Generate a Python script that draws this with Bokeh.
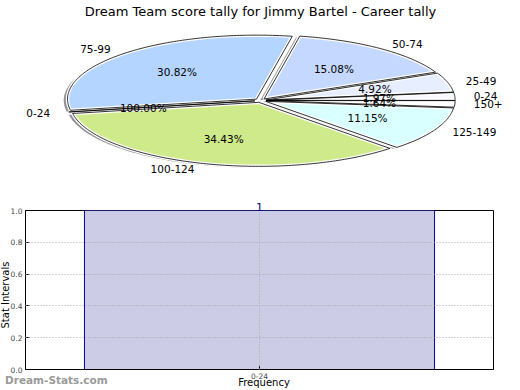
import numpy as np
from bokeh.plotting import figure
from bokeh.layouts import column
from bokeh.models import (Range1d, Label, ColumnDataSource, FactorRange,
                          FixedTicker, PrintfTickFormatter, Title, Div)
from bokeh.core.properties import value
from bokeh.embed import file_html
from bokeh.resources import INLINE

# ---------------- data ----------------
title_text = "Dream Team score tally for Jimmy Bartel - Career tally"
slice_labels = ["0-24", "25-49", "50-74", "75-99", "0-24", "100-124", "125-149", "150+"]
slice_pcts = [1.97, 4.92, 15.08, 30.82, 0.0, 34.43, 11.15, 1.64]
pct_texts = ["1.97%", "4.92%", "15.08%", "30.82%", "100.00%", "34.43%", "11.15%", "1.64%"]
slice_colors = ["#F7F9FF", "#E6EEFF", "#C5D8FF", "#B3D5FF", "#FFFFFF", "#CFEA8A", "#D9FFFF", "#FFFFFF"]

bar_cats = ["0-24"]
bar_vals = [1]
y_ticks = [0.0, 0.2, 0.4, 0.6, 0.8, 1.0]
x_label = "Frequency"
y_label = "Stat Intervals"
watermark = "Dream-Stats.com"

FONT = "DejaVu Sans"

# ---------------- pie ----------------
explode = 0.03
total = sum(slice_pcts)
xs, ys, sxs, sys_ = [], [], [], []
lab_x, lab_y, lab_align = [], [], []
pct_x, pct_y = [], []
t1 = 0.0
for v in slice_pcts:
    t2 = t1 + 360.0 * v / total
    mid = np.radians(0.5 * (t1 + t2))
    cx, cy = explode * np.cos(mid), explode * np.sin(mid)
    n = max(2, int(abs(t2 - t1)) + 2)
    ang = np.radians(np.linspace(t1, t2, n))
    px = [cx] + list(cx + np.cos(ang))
    py = [cy] + list(cy + np.sin(ang))
    xs.append(px)
    ys.append(py)
    sxs.append([a - 0.02 for a in px])
    sys_.append([b - 0.02 for b in py])
    lx = cx + 1.1 * np.cos(mid)
    ly = cy + 1.1 * np.sin(mid)
    lab_x.append(lx)
    lab_y.append(ly)
    lab_align.append("left" if lx > 0 else "right")
    pct_x.append(cx + 0.6 * np.cos(mid))
    pct_y.append(cy + 0.6 * np.sin(mid))
    t1 = t2

p1 = figure(width=520, height=192, x_range=Range1d(-1.3757, 1.3757),
            y_range=Range1d(-1.4375, 1.5625), output_backend="svg",
            toolbar_location=None, min_border=0)
p1.frame_align = False
p1.xaxis.visible = False
p1.yaxis.visible = False
p1.xgrid.visible = False
p1.ygrid.visible = False
p1.outline_line_color = None
p1.min_border_left = 0
p1.min_border_right = 0
p1.min_border_top = 0
p1.min_border_bottom = 0

p1.patches(sxs, sys_, fill_color="#4a4a4a", fill_alpha=0.6, line_color=None)
p1.patches(xs, ys, fill_color=slice_colors, line_color="white", line_width=3.5)
p1.patches(xs, ys, fill_color=None, line_color="black", line_width=0.8)

lab_src = ColumnDataSource(dict(x=lab_x, y=lab_y, t=slice_labels, a=lab_align))
p1.text(x="x", y="y", text="t", text_align="a", text_baseline="middle",
        text_font=value(FONT), text_font_size="10.5px", text_color="black",
        source=lab_src)
pct_src = ColumnDataSource(dict(x=pct_x, y=pct_y, t=pct_texts))
p1.text(x="x", y="y", text="t", text_align="center", text_baseline="middle",
        text_font=value(FONT), text_font_size="10.5px", text_color="black",
        source=pct_src)

p1.add_layout(Label(x=0, y=1.5625, text=title_text, text_align="center",
                    text_baseline="top", y_offset=-3, text_font=FONT,
                    text_font_size="13px", text_color="black"))

# ---------------- bar ----------------
p2 = figure(width=520, height=198, x_range=FactorRange(*bar_cats),
            y_range=Range1d(0, 1), output_backend="svg", toolbar_location=None,
            min_border_left=25, min_border_right=27, min_border_top=18,
            min_border_bottom=21)
p2.frame_align = False
p2.vbar(x=bar_cats, top=bar_vals, width=0.748, fill_color="#CCCCE6",
        line_color="#000099", line_width=1)

p2.outline_line_color = "black"
p2.outline_line_width = 1
p2.ygrid.ticker = FixedTicker(ticks=y_ticks)
for g in (p2.xgrid, p2.ygrid):
    g.grid_line_color = "#A8A8A8"
    g.grid_line_dash = "1 2"
    g.level = "overlay"

p2.yaxis.ticker = FixedTicker(ticks=y_ticks)
p2.yaxis.formatter = PrintfTickFormatter(format="%.1f")
for ax in (p2.xaxis, p2.yaxis):
    ax.major_label_text_font = FONT
    ax.major_label_text_font_size = "7.5px"
    ax.major_tick_in = 4
    ax.major_tick_out = 0
    ax.minor_tick_line_color = None
    ax.axis_line_color = "black"
    ax.major_label_standoff = 3

# value label above the single bar
p2.add_layout(Title(text=str(bar_vals[0]), align="center", text_font=FONT,
                    text_font_size="11px", text_font_style="normal",
                    text_color="#000080", standoff=0), "above")

# axis titles and watermark (outside the plot frame)
xl = Div(text=x_label, styles={"position": "absolute", "left": "209px", "top": "372px",
                               "width": "100px", "text-align": "center",
                               "font-family": FONT, "font-size": "10px",
                               "line-height": "11px", "color": "black"})
yl = Div(text=y_label, styles={"position": "absolute", "left": "-5px", "top": "330px",
                               "width": "80px", "text-align": "center",
                               "font-family": FONT, "font-size": "10px",
                               "line-height": "11px", "color": "black",
                               "transform-origin": "left top",
                               "transform": "rotate(-90deg)"})
wm = Div(text=watermark, styles={"position": "absolute", "left": "0px", "top": "369px",
                                 "font-family": FONT, "font-weight": "bold",
                                 "font-size": "10.5px", "line-height": "12px",
                                 "color": "#9A9A9A"})

layout = column(p1, p2, xl, yl, wm)
open("out.html", "w").write(file_html(layout, INLINE))
